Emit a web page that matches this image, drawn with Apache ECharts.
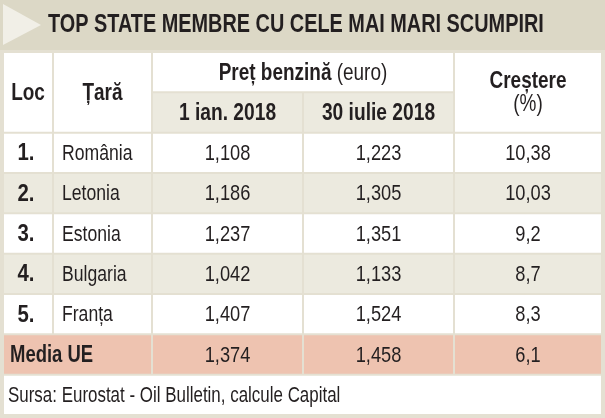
<!DOCTYPE html>
<html lang="ro">
<head>
	<meta charset="UTF-8">
	<title>Top state membre cu cele mai mari scumpiri</title>
	<script src="https://cdn.jsdelivr.net/npm/echarts@6/dist/echarts.min.js"></script>
	<style>
		html,body{margin:0;padding:0;background:#e4e0d2;}
		#chart{width:605px;height:418px;}
	</style>
</head>
<body>
	<div id="chart"></div>
	<script type="text/javascript">
		// date tabel
		var titlu = 'TOP STATE MEMBRE CU CELE MAI MARI SCUMPIRI';
		var locuri = ['1.', '2.', '3.', '4.', '5.'];
		var tari = ['România', 'Letonia', 'Estonia', 'Bulgaria', 'Franța'];
		var pretIan = ['1,108', '1,186', '1,237', '1,042', '1,407'];
		var pretIul = ['1,223', '1,305', '1,351', '1,133', '1,524'];
		var crestere = ['10,38', '10,03', '9,2', '8,7', '8,3'];
		var mediaUE = ['Media UE', '1,374', '1,458', '6,1'];
		var capete = ['Loc', 'Țară', 'Preț benzină', '(euro)', '1 ian. 2018', '30 iulie 2018', 'Creștere', '(%)'];
		var sursa = 'Sursa: Eurostat - Oil Bulletin, calcule Capital';

		// marginile coloanelor pe axa x (0..599)
		var col = [0, 50, 149, 300, 451, 599];
		// fontul original e condensat, asa ca strangem textul pe orizontala
		var FONT = "'Liberation Sans', Arial, sans-serif";
		var ALB = '#ffffff', BEJ = '#eceadf', SOMON = '#eec3b0', TEXT = '#231f20';
		var CAP = 24, CORP = 22;   // marimi font: capul tabelului / randuri

		// construim celulele: c0,c1 = index margine coloana, r0,r1 = rand
		var celule = [];
		function cel(c0, c1, r0, r1, text, opt) {
			celule.push({
				c0: c0, c1: c1, r0: r0, r1: r1, text: text,
				align: opt.align || 'center', bold: !!opt.bold, fill: opt.fill || ALB,
				pad: opt.pad || 0, size: opt.size || CORP, sx: opt.sx || 0.8, dx: opt.dx || 0
			});
		}
		var cap = {bold: true, size: CAP, sx: 0.79};
		cel(0, 1, 0, 2, capete[0], cap);
		cel(1, 2, 0, 2, capete[1], cap);
		cel(2, 4, 0, 1, '{b|' + capete[2] + '} {r|' + capete[3] + '}', cap);
		cel(2, 3, 1, 2, capete[4], {bold: true, size: CAP, sx: 0.8, fill: BEJ});
		cel(3, 4, 1, 2, capete[5], {bold: true, size: CAP, sx: 0.8, fill: BEJ});
		cel(4, 5, 0, 2, '{b|' + capete[6] + '}\n{r|' + capete[7] + '}', cap);
		for (var i = 0; i < tari.length; i++) {
			var f = i % 2 ? BEJ : ALB;
			cel(0, 1, i + 2, i + 3, locuri[i], {bold: true, size: CAP, sx: 0.85, fill: f, dx: -2});
			cel(1, 2, i + 2, i + 3, tari[i], {align: 'left', fill: f, pad: 8});
			cel(2, 3, i + 2, i + 3, pretIan[i], {fill: f, sx: 0.83});
			cel(3, 4, i + 2, i + 3, pretIul[i], {fill: f, sx: 0.83});
			cel(4, 5, i + 2, i + 3, crestere[i], {fill: f, sx: 0.83});
		}
		cel(0, 2, 7, 8, mediaUE[0], {align: 'left', bold: true, size: CAP, sx: 0.77, fill: SOMON, pad: 6});
		cel(2, 3, 7, 8, mediaUE[1], {fill: SOMON, sx: 0.83});
		cel(3, 4, 7, 8, mediaUE[2], {fill: SOMON, sx: 0.83});
		cel(4, 5, 7, 8, mediaUE[3], {fill: SOMON, sx: 0.83});
		cel(0, 5, 8, 9, sursa, {align: 'left', pad: 4, sx: 0.77});

		var date = celule.map(function (c) {
			return [col[c.c0], col[c.c1], c.r0, c.r1];
		});

		var myChart = echarts.init(document.getElementById('chart'));
		var option = {
			backgroundColor: '#e4e0d2',
			animation: false,
			graphic: [
				{type: 'rect', shape: {x: 0, y: 0, width: 605, height: 50}, style: {fill: '#dcd8c6'}, z: -1},
				{type: 'polygon', shape: {points: [[3, 4], [41, 25], [3, 45]]}, style: {fill: '#f1efe7'}},
				{
					type: 'text', x: 48, y: 25, scaleX: 0.795,
					style: {text: titlu, verticalAlign: 'middle', fontFamily: FONT, fontSize: 25, fontWeight: 'bold', fill: TEXT}
				}
			],
			grid: {left: 3, right: 3, top: 52, bottom: 3},
			xAxis: {type: 'value', min: 0, max: 599, show: false},
			yAxis: {type: 'value', min: 0, max: 9, inverse: true, show: false},
			series: [{
				type: 'custom',
				encode: {x: [0, 1], y: [2, 3]},
				data: date,
				renderItem: function (params, api) {
					var c = celule[params.dataIndex];
					var p0 = api.coord([api.value(0), api.value(2)]);
					var p1 = api.coord([api.value(1), api.value(3)]);
					var x0 = p0[0] + 1, y0 = p0[1] + 1, w = p1[0] - p0[0] - 2, h = p1[1] - p0[1] - 2;
					var tx = (c.align === 'left' ? x0 + c.pad : x0 + w / 2) + c.dx;
					return {
						type: 'group',
						children: [
							{type: 'rect', shape: {x: x0, y: y0, width: w, height: h}, style: {fill: c.fill}},
							{
								type: 'text',
								x: tx, y: y0 + h / 2 + 1,
								scaleX: c.sx,
								style: {
									x: 0, y: 0,
									text: c.text,
									align: c.align, verticalAlign: 'middle',
									fontFamily: FONT, fontSize: c.size,
									fontWeight: c.bold ? 'bold' : 'normal',
									fill: TEXT,
									rich: {
										b: {fontFamily: FONT, fontSize: c.size, fontWeight: 'bold', fill: TEXT, lineHeight: 23},
										r: {fontFamily: FONT, fontSize: c.size, fontWeight: 'normal', fill: TEXT, lineHeight: 23}
									}
								}
							}
						]
					};
				}
			}]
		};
		myChart.setOption(option);
	</script>
</body>
</html>
